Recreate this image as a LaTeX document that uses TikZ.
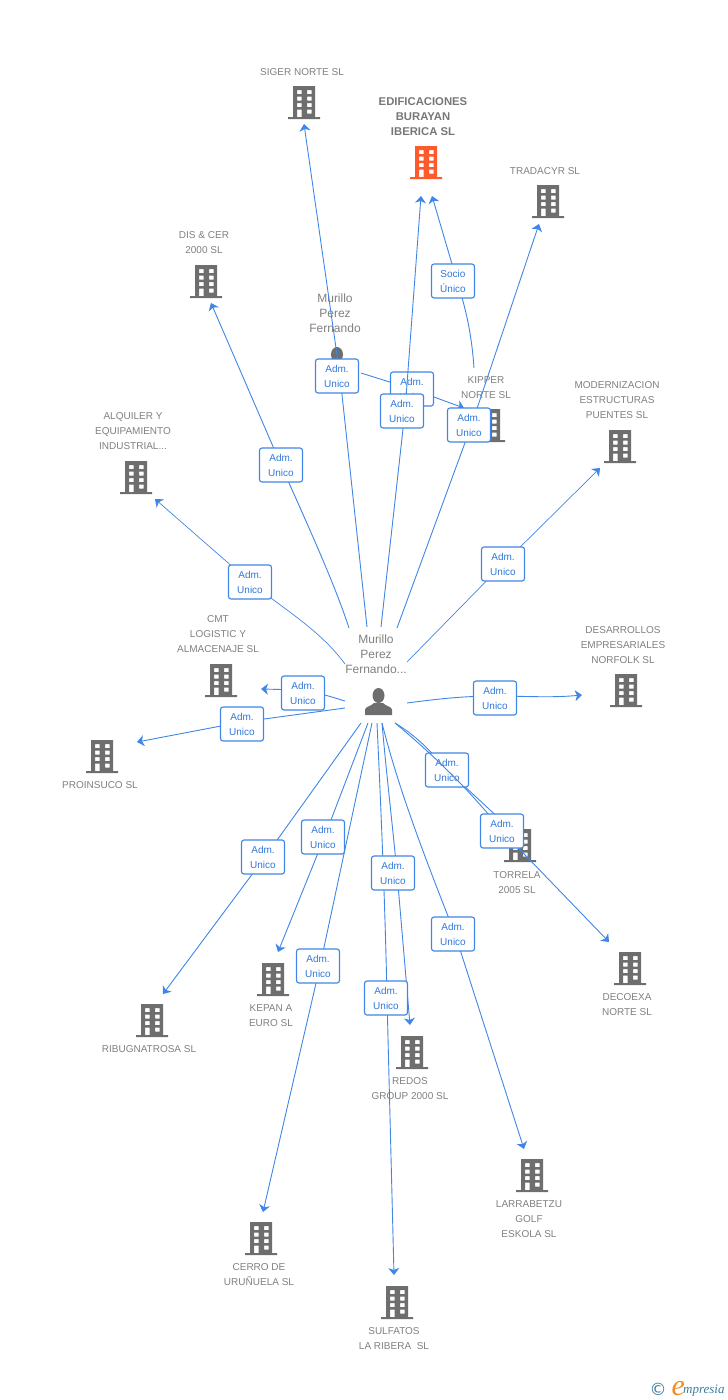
\documentclass[tikz,border=0pt]{standalone}
\usepackage{fontspec}
\setmainfont{Liberation Sans}
\newfontfamily\djv{DejaVu Sans}
\newfontfamily\lser{Liberation Serif}
\usetikzlibrary{arrows.meta}
\definecolor{lnk}{HTML}{3F86E6}
\definecolor{lnktxt}{HTML}{2F78DC}
\definecolor{bldgrey}{HTML}{6E6E6E}
\definecolor{bldorange}{HTML}{FF5A2B}
\definecolor{lbl}{HTML}{808080}
\definecolor{lbldark}{HTML}{777777}
\definecolor{logoteal}{HTML}{3A7D9C}
\definecolor{logoor}{HTML}{F58A1F}
\tikzset{
  bldnode/.style={anchor=south,minimum width=32pt,minimum height=33pt,inner sep=0pt,outer sep=0pt},
  mannode/.style={anchor=south,minimum width=27pt,minimum height=27pt,inner sep=0pt,outer sep=0pt},
  lab/.style={text=lbl,align=center,inner sep=0pt,font=\fontsize{10}{15}\selectfont},
  plab/.style={text=lbl,align=center,inner sep=0pt,font=\fontsize{12}{15}\selectfont},
  blab/.style={text=lbldark,align=center,inner sep=0pt,font=\fontsize{11.3}{15}\selectfont\bfseries},
  rel/.style={draw=lnk,line width=1.1pt,fill=white,rounded corners=2.5pt,minimum width=43pt,minimum height=34pt,inner sep=0pt,
     text=lnktxt,align=center,font=\fontsize{10}{15}\selectfont},
  link/.style={draw=lnk,line width=0.9pt},
  arrowlink/.style={link,-{Stealth[length=7pt,width=11pt,inset=2pt]}},
}
\newcommand\bldg[4][bldgrey]{%
  \node[bldnode] (#2) at (#3,#4) {};
  \begin{scope}[shift={(#2.south)}]
    \fill[#1,even odd rule]
      (-16,0) -- (16,0) -- (16,-2) -- (11,-2) -- (11,-33) -- (-11,-33) -- (-11,-2) -- (-16,-2) -- cycle
      (-7,-29) rectangle (-2.5,-25) (3,-29) rectangle (7.5,-25)
      (-7,-22.5) rectangle (-2.5,-18.5) (3,-22.5) rectangle (7.5,-18.5)
      (-7,-16) rectangle (-2.5,-12) (3,-16) rectangle (7.5,-12)
      (-7,-9.5) rectangle (-2.5,-2) (3,-9.5) rectangle (7.5,-5.5);
  \end{scope}}
\newcommand\manicon[3]{%
  \node[mannode] (#1) at (#2,#3) {};
  \begin{scope}[shift={(#1.south)}]
    \fill[bldgrey] (0,-19.5) ellipse [x radius=6pt,y radius=7.5pt];
    \fill[bldgrey] (-13.5,0) -- (-13.5,-5.5) .. controls (-13,-8.5) and (-7,-9) .. (-4.5,-12)
       -- (4.5,-12) .. controls (7,-9) and (13,-8.5) .. (13.5,-5.5) -- (13.5,0) -- cycle;
  \end{scope}}
\begin{document}
\begin{tikzpicture}[x=1pt,y=-1pt]
\useasboundingbox (0,0) rectangle (728,1400);
% buildings
\bldg{siger}{304}{119}
\bldg[bldorange]{edif}{426}{179}
\bldg{tradacyr}{548}{218}
\bldg{discer}{206}{298}
\bldg{alquiler}{136}{494}
\bldg{kipper}{489}{442}
\bldg{modern}{620}{463}
\bldg{desarr}{626}{707}
\bldg{cmt}{221}{697}
\bldg{proinsuco}{102}{773}
\bldg{torrela}{520}{862}
\bldg{decoexa}{630}{985}
\bldg{ribug}{152}{1037}
\bldg{kepan}{273}{996}
\bldg{redos}{412}{1069}
\bldg{larra}{532}{1192}
\bldg{cerro}{261}{1255}
\bldg{sulfatos}{397}{1319}
\manicon{mantop}{337}{374}
\manicon{man}{378.5}{715}
% labels
\node[lab] (tsiger) at (302,72) {SIGER NORTE SL};
\node[blab] (tedif) at (423,116.5) {EDIFICACIONES\\BURAYAN\\IBERICA SL};
\node[lab] (ttrad) at (545,171) {TRADACYR SL};
\node[lab] (tdis) at (204,242.5) {DIS \& CER\\2000 SL};
\node[lab] (talq) at (133,431) {ALQUILER Y\\EQUIPAMIENTO\\INDUSTRIAL...};
\node[plab] (tmtop) at (335,313) {Murillo\\Perez\\Fernando};
\node[lab] (tkip) at (486,387.5) {KIPPER\\NORTE SL};
\node[lab] (tmod) at (617,400) {MODERNIZACION\\ESTRUCTURAS\\PUENTES SL};
\node[lab] (tdes) at (623,645) {DESARROLLOS\\EMPRESARIALES\\NORFOLK SL};
\node[lab] (tcmt) at (218,634) {CMT\\LOGISTIC Y\\ALMACENAJE SL};
\node[lab] (tpro) at (100,785) {PROINSUCO SL};
\node[plab] (tman) at (376,654) {Murillo\\Perez\\Fernando...};
\node[lab] (ttor) at (517,882.5) {TORRELA\\2005 SL};
\node[lab] (tdec) at (627,1004.5) {DECOEXA\\NORTE SL};
\node[lab] (trib) at (149,1049) {RIBUGNATROSA SL};
\node[lab] (tkep) at (271,1015.5) {KEPAN A\\EURO SL};
\node[lab] (tred) at (410,1088.5) {REDOS\\GROUP 2000 SL};
\node[lab] (tlar) at (529,1219) {LARRABETZU\\GOLF\\ESKOLA SL};
\node[lab] (tcer) at (259,1274.5) {CERRO DE\\URUÑUELA SL};
\node[lab] (tsul) at (394,1338.5) {SULFATOS\\LA RIBERA\ \ SL};
% points where the connectors cross their boxes
\coordinate (bsiger) at (340,376);
\coordinate (bkip) at (412,389);
\coordinate (bedif) at (405,411);
\coordinate (bsoc) at (457,281);
\coordinate (btra) at (471.5,425);
\coordinate (bdis) at (281,465);
\coordinate (balq) at (250,582);
\coordinate (bmod) at (503,564);
\coordinate (bdes) at (495,696);
\coordinate (bcmt) at (303,690);
\coordinate (bpro) at (242,722);
\coordinate (btor) at (447,770);
\coordinate (bdec) at (502,831);
\coordinate (brib) at (265,857);
\coordinate (bkep) at (324.5,837);
\coordinate (bcer) at (320,966);
\coordinate (bred) at (397,873);
\coordinate (bsul) at (387,998);
\coordinate (blar) at (455,934);
% connector ends
\coordinate (esiger) at (304,124);
\coordinate (eedif) at (421,196);
\coordinate (esoc) at (432,196);
\coordinate (etra) at (539,224);
\coordinate (edis) at (211,303);
\coordinate (ealq) at (155,499);
\coordinate (ekip) at (464,408);
\coordinate (emod) at (600,468);
\coordinate (edes) at (582,695);
\coordinate (ecmt) at (261,689);
\coordinate (epro) at (137,742);
\coordinate (etor) at (503,822);
\coordinate (edec) at (609,942);
\coordinate (erib) at (163,994);
\coordinate (ekep) at (278,952);
\coordinate (ecer) at (263,1212);
\coordinate (ered) at (410,1025);
\coordinate (esul) at (394,1275);
\coordinate (elar) at (524,1149);
% connector starts
\coordinate (s1) at (367,627);
\coordinate (s2) at (349,628);
\coordinate (s3) at (381,627);
\coordinate (s4) at (397,628);
\coordinate (s5) at (345,664);
\coordinate (s6) at (407,662);
\coordinate (s7) at (407,703);
\coordinate (s8) at (345,701);
\coordinate (s9) at (345,708);
\coordinate (s10) at (395,723);
\coordinate (s11) at (395,723);
\coordinate (s12) at (361,723);
\coordinate (s13) at (368,723);
\coordinate (s14) at (372,723);
\coordinate (s15) at (382,723);
\coordinate (s16) at (377,723);
\coordinate (s17) at (382,723);
\coordinate (s18) at (361,373);
\coordinate (s19) at (474,368);
% connectors
\draw[link] (s1) -- (bsiger);
\draw[arrowlink] (bsiger) -- (esiger);
\draw[link] (s18) -- (bkip);
\draw[arrowlink] (bkip) -- (ekip);
\node[rel] (nkip) at (412,389) {Adm.\\Unico};
\draw[link] (s3) -- (bedif);
\draw[arrowlink] (bedif) -- (eedif);
\draw[link] (s19) .. controls (472,340) and (468,315) .. (bsoc);
\draw[arrowlink] (bsoc) -- (esoc);
\draw[link] (s4) -- (btra);
\draw[arrowlink] (btra) -- (etra);
\draw[link] (s2) .. controls (335,585) and (310,530) .. (bdis);
\draw[arrowlink] (bdis) -- (edis);
\draw[link,line width=0.7pt] (s5) .. controls (320,630) and (285,610) .. (balq);
\draw[arrowlink,line width=0.7pt] (balq) -- (ealq);
\draw[link,line width=0.7pt] (s6) -- (bmod);
\draw[arrowlink,line width=0.7pt] (bmod) -- (emod);
\draw[link] (s7) .. controls (430,700) and (460,696) .. (bdes);
\draw[arrowlink] (bdes) .. controls (525,696) and (550,698) .. (edes);
\draw[link] (s8) .. controls (335,698) and (320,693) .. (bcmt);
\draw[arrowlink] (bcmt) -- (ecmt);
\draw[link] (s9) -- (bpro);
\draw[arrowlink] (bpro) -- (epro);
\draw[link] (s10) .. controls (415,735) and (430,750) .. (btor);
\draw[arrowlink] (btor) -- (etor);
\node[rel] (ntor) at (447,770) {Adm.\\Unico};
\draw[link] (s11) .. controls (430,752) and (470,790) .. (bdec);
\draw[arrowlink] (bdec) -- (edec);
\draw[link] (s12) -- (brib);
\draw[arrowlink] (brib) -- (erib);
\draw[link] (s13) -- (bkep);
\draw[arrowlink] (bkep) -- (ekep);
\draw[link] (s14) -- (bcer);
\draw[arrowlink] (bcer) -- (ecer);
\draw[link] (s15) .. controls (386,770) and (392,820) .. (bred);
\draw[arrowlink] (bred) -- (ered);
\draw[link] (s16) .. controls (381,810) and (385,900) .. (bsul);
\draw[arrowlink] (bsul) -- (esul);
\draw[link] (s17) .. controls (400,795) and (430,870) .. (blar);
\draw[arrowlink] (blar) -- (elar);
% relation boxes
\node[rel] (nsiger) at (337,376) {Adm.\\Unico};
\node[rel] (nedif) at (402,411) {Adm.\\Unico};
\node[rel] (nsoc) at (453,281) {Socio\\Único};
\node[rel] (ntra) at (469,425) {Adm.\\Unico};
\node[rel] (ndis) at (281,465) {Adm.\\Unico};
\node[rel] (nalq) at (250,582) {Adm.\\Unico};
\node[rel] (nmod) at (503,564) {Adm.\\Unico};
\node[rel] (ndes) at (495,698) {Adm.\\Unico};
\node[rel] (ncmt) at (303,693) {Adm.\\Unico};
\node[rel] (npro) at (242,724) {Adm.\\Unico};
\node[rel] (ndec) at (502,831) {Adm.\\Unico};
\node[rel] (nrib) at (263,857) {Adm.\\Unico};
\node[rel] (nkep) at (323,837) {Adm.\\Unico};
\node[rel] (ncer) at (318,966) {Adm.\\Unico};
\node[rel] (nred) at (393,873) {Adm.\\Unico};
\node[rel] (nsul) at (386,998) {Adm.\\Unico};
\node[rel] (nlar) at (453,934) {Adm.\\Unico};
% logo
\node[text=logoteal,inner sep=0pt,font=\djv\fontsize{17}{17}\selectfont] (copy) at (658,1389) {©};
\node[text=logoor,inner sep=0pt,anchor=base west,font=\lser\fontsize{30}{30}\selectfont\itshape] (loge) at (671.5,1395) {e};
\node[text=logoteal,inner sep=0pt,anchor=base west,font=\lser\fontsize{13}{13}\selectfont\itshape] (logt) at (683,1393) {mpresia};
\end{tikzpicture}
\end{document}
